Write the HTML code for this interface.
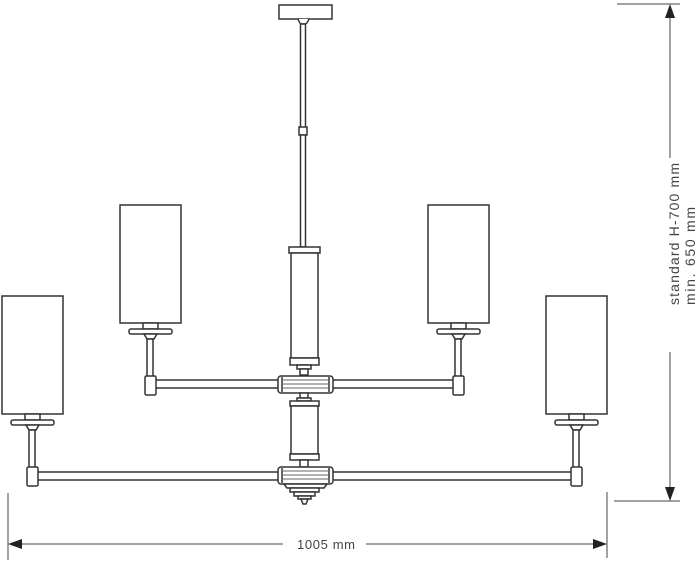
<!DOCTYPE html>
<html><head><meta charset="utf-8"><style>
html,body{margin:0;padding:0;background:#fff;width:700px;height:562px;overflow:hidden}
svg{display:block}
text{font-family:"Liberation Sans",sans-serif;fill:#444}
</style></head><body>
<svg width="700" height="562" viewBox="0 0 700 562" xmlns="http://www.w3.org/2000/svg">
<defs>
<g id="lamp" fill="#fff" stroke="#333" stroke-width="1.5">
  <rect x="0" y="0" width="61" height="118"/>
  <rect x="23" y="118" width="15" height="6"/>
  <rect x="9" y="124" width="43" height="5" rx="2"/>
  <path d="M24 129 L37 129 L34 134 L27 134 Z"/>
  <rect x="27" y="134" width="6" height="38"/>
  <rect x="25" y="171" width="11" height="19" rx="1.5"/>
</g>
</defs>
<g fill="#fff" stroke="#333" stroke-width="1.5">
  <rect x="279" y="5" width="53" height="14"/>
  <path d="M298 19 Q300 24 301 24 L305 24 Q307 24 309 19"/>
  <rect x="300.5" y="24" width="5" height="104"/>
  <rect x="299" y="127" width="8" height="8"/>
  <rect x="300.5" y="135" width="5" height="112"/>
  <rect x="289" y="247" width="31" height="6"/>
  <rect x="291" y="253" width="27" height="105"/>
  <rect x="290" y="358" width="29" height="7"/>
  <rect x="297" y="365" width="14" height="4"/>
  <rect x="300" y="369" width="8" height="6"/>
  <rect x="155" y="380" width="300" height="8"/>
  <rect x="37" y="472" width="538" height="8"/>
  <rect x="278" y="376" width="55" height="17" rx="3"/>
  <line x1="282" y1="377" x2="282" y2="392"/><line x1="329" y1="377" x2="329" y2="392"/>
  <line x1="283" y1="380" x2="328" y2="380" stroke-width="0.8"/>
  <line x1="283" y1="384" x2="328" y2="384" stroke-width="0.8"/>
  <line x1="283" y1="388" x2="328" y2="388" stroke-width="0.8"/>
  <rect x="300" y="393" width="8" height="5"/>
  <rect x="297" y="398" width="14" height="3"/>
  <rect x="290" y="401" width="29" height="5"/>
  <rect x="291" y="406" width="27" height="48"/>
  <rect x="290" y="454" width="29" height="6"/>
  <rect x="300" y="460" width="8" height="7"/>
  <rect x="278" y="467" width="55" height="17" rx="3"/>
  <line x1="282" y1="468" x2="282" y2="483"/><line x1="329" y1="468" x2="329" y2="483"/>
  <line x1="283" y1="471" x2="328" y2="471" stroke-width="0.8"/>
  <line x1="283" y1="475" x2="328" y2="475" stroke-width="0.8"/>
  <line x1="283" y1="479" x2="328" y2="479" stroke-width="0.8"/>
  <path d="M284 484 L327 484 L324 488 L287 488 Z"/>
  <rect x="290" y="488" width="29" height="4"/>
  <rect x="294" y="492" width="21" height="4"/>
  <rect x="298" y="496" width="13" height="3"/>
  <path d="M301 499 L308 499 L306 504 L303 504 Z"/>
</g>
<use href="#lamp" x="120" y="205"/>
<use href="#lamp" x="428" y="205"/>
<use href="#lamp" x="2" y="296"/>
<use href="#lamp" x="546" y="296"/>
<g stroke="#444" stroke-width="1" fill="none">
  <line x1="617" y1="4" x2="680" y2="4"/>
  <line x1="614" y1="501" x2="680" y2="501"/>
  <line x1="670" y1="14" x2="670" y2="158"/>
  <line x1="670" y1="352" x2="670" y2="490"/>
  <line x1="8" y1="493" x2="8" y2="560"/>
  <line x1="607" y1="492" x2="607" y2="558"/>
  <line x1="20" y1="544" x2="283" y2="544"/>
  <line x1="366" y1="544" x2="596" y2="544"/>
</g>
<g fill="#222">
  <path d="M670 4 L665 18 L675 18 Z"/>
  <path d="M670 501 L665 487 L675 487 Z"/>
  <path d="M8 544 L22 539 L22 549 Z"/>
  <path d="M607 544 L593 539 L593 549 Z"/>
</g>
<text x="297" y="549" font-size="13" textLength="58">1005 mm</text>
<g transform="translate(675,305) rotate(-90)">
  <text x="0" y="4" font-size="14" textLength="142">standard H-700 mm</text>
  <text x="0" y="20" font-size="14" textLength="98">min. 650 mm</text>
</g>
</svg>
</body></html>
